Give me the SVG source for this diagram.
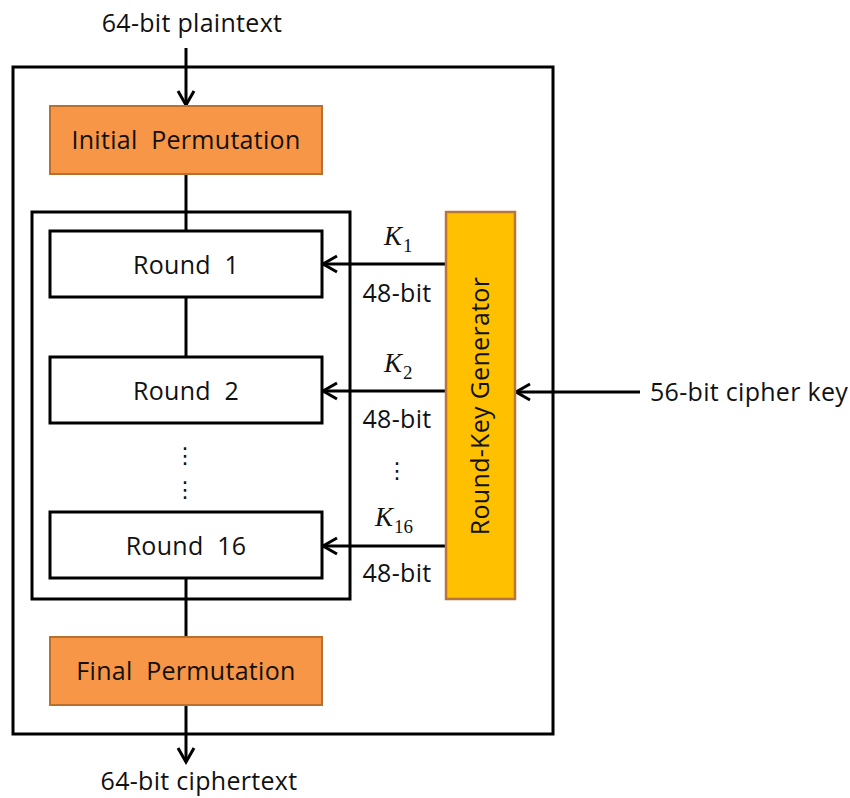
<svg xmlns="http://www.w3.org/2000/svg" width="850" height="798" viewBox="0 0 850 798">
<style>
  text { font-family: "Open Sans", "Liberation Sans", sans-serif; font-size: 25px; fill: #111; letter-spacing: 0.3px; }
  .mid { text-anchor: middle; }
  .frame { fill: none; stroke: #000; stroke-width: 3; }
  .perm { fill: #F79646; stroke: #B8702F; stroke-width: 2; }
  .round { fill: #fff; stroke: #000; stroke-width: 3; }
  .gen { fill: #FFC000; stroke: #B8763A; stroke-width: 2.5; }
  .wire { fill: none; stroke: #000; stroke-width: 3; }
  .key { font-family: "Liberation Serif", "DejaVu Serif", serif; font-style: italic; font-size: 27px; letter-spacing: 0; }
  .sub { font-family: "Liberation Serif", "DejaVu Serif", serif; font-size: 19px; letter-spacing: 0; }
  .dots { font-family: "DejaVu Sans", sans-serif; font-size: 22px; text-anchor: middle; letter-spacing: 0; }
</style>
<defs>
  <marker id="arr" viewBox="0 0 20 20" refX="17" refY="10" markerWidth="20" markerHeight="20" markerUnits="userSpaceOnUse" orient="auto">
    <path d="M3 2 L17 10 L3 18" fill="none" stroke="#000" stroke-width="3"/>
  </marker>
</defs>
<rect width="850" height="798" fill="#fff"/>

<g id="outer-frame"><rect class="frame" x="13" y="67" width="540" height="667"/></g>
<g id="rounds-frame"><rect class="frame" x="32" y="212" width="318" height="387"/></g>

<g id="connectors">
  <line class="wire" x1="186" y1="48" x2="186" y2="105" marker-end="url(#arr)"/>
  <line class="wire" x1="186" y1="175" x2="186" y2="231"/>
  <line class="wire" x1="186" y1="297" x2="186" y2="357"/>
  <line class="wire" x1="186" y1="578" x2="186" y2="637"/>
  <line class="wire" x1="186" y1="706" x2="186" y2="762" marker-end="url(#arr)"/>
  <line class="wire" x1="446" y1="264" x2="323" y2="264" marker-end="url(#arr)"/>
  <line class="wire" x1="446" y1="391" x2="323" y2="391" marker-end="url(#arr)"/>
  <line class="wire" x1="446" y1="546" x2="323" y2="546" marker-end="url(#arr)"/>
  <line class="wire" x1="640" y1="392" x2="516" y2="392" marker-end="url(#arr)"/>
</g>

<g id="initial-permutation">
  <rect class="perm" x="50" y="106" width="272" height="68"/>
  <text class="mid" x="186" y="149">Initial&#160; Permutation</text>
</g>
<g id="round-1">
  <rect class="round" x="50" y="231" width="272" height="66"/>
  <text class="mid" x="186" y="274">Round&#160; 1</text>
</g>
<g id="round-2">
  <rect class="round" x="50" y="357" width="272" height="66"/>
  <text class="mid" x="186" y="400">Round&#160; 2</text>
</g>
<g id="round-dots">
  <text class="dots" x="185" y="463">⋮</text>
  <text class="dots" x="185" y="497">⋮</text>
</g>
<g id="round-16">
  <rect class="round" x="50" y="512" width="272" height="66"/>
  <text class="mid" x="186" y="555">Round&#160; 16</text>
</g>
<g id="final-permutation">
  <rect class="perm" x="50" y="637" width="272" height="68"/>
  <text class="mid" x="186" y="680">Final&#160; Permutation</text>
</g>
<g id="round-key-generator">
  <rect class="gen" x="446" y="212" width="69" height="387"/>
  <text class="mid" x="489" y="406" transform="rotate(-90 489 406)">Round-Key Generator</text>
</g>

<g id="labels">
  <text class="mid" x="192" y="32">64-bit plaintext</text>
  <text class="mid" x="199" y="790">64-bit ciphertext</text>
  <text x="650" y="401">56-bit cipher key</text>
  <text class="key" x="384" y="245">K</text><text class="sub" x="403" y="252">1</text>
  <text class="key" x="384" y="372">K</text><text class="sub" x="403" y="379">2</text>
  <text class="key" x="375" y="526">K</text><text class="sub" x="394" y="533">16</text>
  <text class="mid" x="397" y="302">48-bit</text>
  <text class="mid" x="397" y="428">48-bit</text>
  <text class="mid" x="397" y="582">48-bit</text>
  <text class="dots" x="397" y="478">⋮</text>
</g>
</svg>
